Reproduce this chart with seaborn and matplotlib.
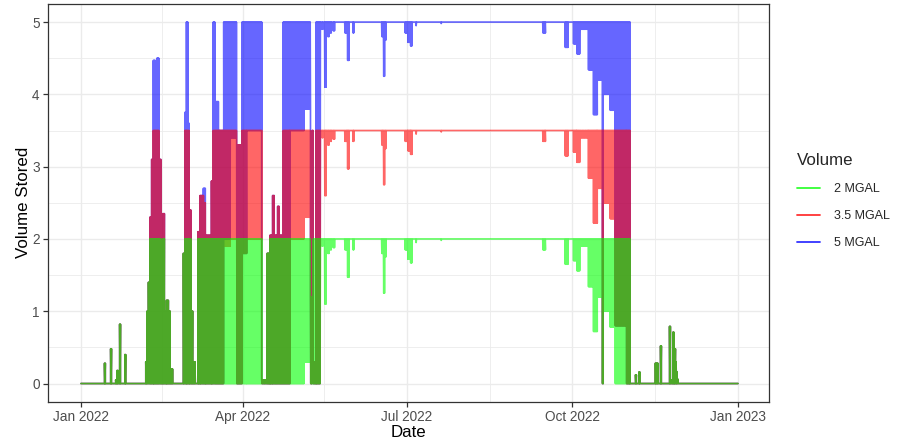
import numpy as np
import pandas as pd
import seaborn as sns
import matplotlib.pyplot as plt
from matplotlib.lines import Line2D
import matplotlib.dates as mdates

# Each row: start day, end day, then (low, high) for 2 MGAL, 3.5 MGAL, 5 MGAL.
# Day 0 = 1 Jan 2022. Within a row the hourly level swings between low and high.
jan_spikes = [
    (13.1, 13.5, 0, .28, 0, .28, 0, .28),
    (16.5, 16.9, 0, .48, 0, .48, 0, .48),
    (19.3, 19.7, 0, .05, 0, .05, 0, .05),
    (20.1, 20.5, 0, .18, 0, .18, 0, .18),
    (20.5, 21.5, 0, .04, 0, .04, 0, .04),
    (21.5, 21.9, 0, .82, 0, .82, 0, .82),
    (24.4, 24.8, 0, .40, 0, .40, 0, .40),
]

spring = [
    (36.0, 36.7, 0, .3, 0, .3, 0, .3),
    (36.7, 37.5, 0, 1.0, 0, 1.0, 0, 1.0),
    (37.5, 38.3, 0, 1.4, 0, 1.4, 0, 1.4),
    (38.3, 39.3, 0, 2, 0, 2.3, 0, 2.3),
    (39.3, 40.2, 0, 2, 0, 3.1, 0, 3.1),
    (40.2, 41.2, 0, 2, 0, 3.5, 0, 4.47),
    (41.2, 42.2, 0, 2, 0, 3.5, 0, 3.9),
    (42.2, 43.2, 0, 2, 0, 3.5, 0, 4.5),
    (43.2, 44.3, 0, 2, 0, 3.1, 0, 3.1),
    (44.3, 45.5, 0, .3, 0, .3, 0, .3),
    (45.5, 46.3, 0, 2, 0, 2.35, 0, 2.35),
    (46.3, 47.5, 0, 1.0, 0, 1.0, 0, 1.0),
    (47.5, 48.5, 0, 1.15, 0, 1.15, 0, 1.15),
    (48.5, 49.5, 0, 1.0, 0, 1.0, 0, 1.0),
    (49.5, 51.0, 0, .2, 0, .2, 0, .2),
    (51.0, 56.9, 0, 0, 0, 0, 0, 0),
    (56.9, 57.7, 0, 1.8, 0, 1.8, 0, 1.8),
    (57.7, 58.6, 0, 2, 0, 3.5, 0, 3.75),
    (58.6, 59.3, 0, 2, 0, 3.5, 0, 5),
    (59.3, 60.2, 0, 2, 0, 3.5, 0, 3.6),
    (60.2, 61.0, 0, 2, 0, 2.4, 0, 2.4),
    (61.0, 62.0, 0, 1.0, 0, 1.0, 0, 1.0),
    (62.0, 63.5, 0, .3, 0, .3, 0, .3),
    (63.5, 65.0, 0, 0, 0, 0, 0, 0),
    (65.0, 66.2, 0, 2, 0, 2.1, 0, 2.1),
    (66.2, 68.0, 0, 2, 0, 2.6, 0, 2.6),
    (68.0, 69.2, 0, 2, 0, 2.5, 0, 2.7),
    (69.2, 72.5, 0, 2, 0, 2.05, 0, 2.05),
    (72.5, 73.5, 0, 2, 0, 2.8, 0, 2.8),
    (73.5, 74.3, 0, 2, 0, 3.5, 0, 5),
    (74.3, 76.3, 0, 2, 0, 3.5, 0, 3.9),
    (76.3, 79.3, 0, 2, 0, 3.5, 0, 3.5),
    (79.3, 83.0, 0, 2, 1.9, 3.5, 2, 5),
    (83.0, 86.5, 0, 2, 2, 3.5, 3.4, 5),
    (86.5, 89.5, 0, 2, 0, 3.3, 0, 3.3),
    (89.5, 92.0, 0, 2, 1.8, 3.5, 1.8, 5),
    (92.0, 100.4, 0, 2, 2, 3.5, 3.5, 5),
    (100.4, 103.5, 0, .05, 0, .05, 0, .05),
    (103.5, 105.0, 0, 1.8, 0, 1.8, 0, 1.8),
    (105.0, 106.5, 0, 2, 0, 2.05, 0, 2.05),
    (106.5, 107.3, 0, 2, 0, 2.6, 0, 2.6),
    (107.3, 109.3, 0, 2, 0, 2.05, 0, 2.05),
    (109.3, 110.0, 0, 2, 0, 2.45, 0, 2.45),
    (110.0, 112.4, 0, 2, 0, 2.05, 0, 2.05),
    (112.4, 116.0, 0, 2, 0, 3.5, 0, 5),
    (116.0, 124.0, 0, 2, 2, 3.5, 3.5, 5),
    (124.0, 127.5, .3, 2, 2.3, 3.5, 3.8, 5),
    (127.5, 128.5, 0, 1.2, 0, 1.2, 0, 1.2),
    (128.5, 129.0, 0, 1.2, 1.2, 3.5, 1.2, 3.5),
    (129.0, 130.6, 0, 2, 0, .3, 0, .3),
    (130.6, 133.0, 0, 2, 0, 3.5, 0, 5),
    (133.0, 133.8, 2, 2, 3.5, 3.5, 5, 5),
]

summer_dips = [
    (133.8, 134.5, 1.9, 2, 3.4, 3.5, 4.9, 5),
    (135.3, 136.2, 1.1, 2, 2.6, 3.5, 4.1, 5),
    (137.0, 138.0, 1.8, 2, 3.3, 3.5, 4.8, 5),
    (138.5, 139.0, 1.85, 2, 3.35, 3.5, 4.85, 5),
    (140.0, 141.0, 1.88, 2, 3.38, 3.5, 4.88, 5),
    (146.5, 147.8, 1.85, 2, 3.35, 3.5, 4.85, 5),
    (148.0, 149.0, 1.47, 2, 2.97, 3.5, 4.47, 5),
    (151.0, 151.5, 1.85, 2, 3.35, 3.5, 4.85, 5),
    (167.0, 168.0, 1.8, 2, 3.3, 3.5, 4.8, 5),
    (168.0, 168.8, 1.25, 2, 2.75, 3.5, 4.25, 5),
    (168.8, 169.5, 1.75, 2, 3.25, 3.5, 4.75, 5),
    (180.0, 181.5, 1.85, 2, 3.35, 3.5, 4.85, 5),
    (181.5, 183.0, 1.72, 2, 3.22, 3.5, 4.72, 5),
    (183.0, 184.0, 1.67, 2, 3.17, 3.5, 4.67, 5),
    (186.0, 186.4, 1.95, 2, 3.45, 3.5, 4.95, 5),
    (200.0, 200.3, 1.98, 2, 3.48, 3.5, 4.98, 5),
    (256.5, 258.0, 1.85, 2, 3.35, 3.5, 4.85, 5),
    (268.9, 270.7, 1.65, 2, 3.15, 3.5, 4.65, 5),
    (273.5, 275.4, 1.7, 2, 3.2, 3.5, 4.7, 5),
    (275.4, 277.2, 1.56, 2, 3.06, 3.5, 4.56, 5),
    (277.2, 281.8, 1.9, 2, 3.4, 3.5, 4.9, 5),
    (281.8, 284.6, 1.34, 2, 2.84, 3.5, 4.34, 5),
    (284.6, 286.8, .72, 2, 2.22, 3.5, 3.72, 5),
    (286.8, 289.6, 1.2, 2, 2.7, 3.5, 4.2, 5),
    (289.6, 290.1, 0, 2, 0, 3.5, 0, 5),
    (290.1, 293.9, 1.0, 2, 2.5, 3.5, 4.0, 5),
    (293.9, 296.7, .78, 2, 2.28, 3.5, 3.78, 5),
]

fall = [
    (296.7, 303.0, 0, 2, .8, 3.5, .8, 5),
    (303.0, 305.0, 0, 2, 0, 3.5, 0, 5),
]

winter_spikes = [
    (308.1, 308.5, 0, .12, 0, .12, 0, .12),
    (310.0, 310.4, 0, .16, 0, .16, 0, .16),
    (319.1, 320.6, 0, .28, 0, .28, 0, .28),
    (322.0, 322.4, 0, .52, 0, .52, 0, .52),
    (327.0, 327.4, 0, .79, 0, .79, 0, .79),
    (327.4, 328.9, 0, .05, 0, .05, 0, .05),
    (328.9, 329.3, 0, .71, 0, .71, 0, .71),
    (329.3, 329.8, 0, .30, 0, .30, 0, .30),
    (329.8, 330.2, 0, .48, 0, .48, 0, .48),
    (330.2, 330.8, 0, .30, 0, .30, 0, .30),
    (330.8, 331.2, 0, .16, 0, .16, 0, .16),
    (331.2, 331.8, 0, .06, 0, .06, 0, .06),
]

series = ["2 MGAL", "3.5 MGAL", "5 MGAL"]
colors = {"2 MGAL": "#00FF00", "3.5 MGAL": "#FF0000", "5 MGAL": "#0000FF"}
EMPTY = (0, 0, 0, 0, 0, 0)
FULL = (2, 2, 3.5, 3.5, 5, 5)


def fill_gaps(rows, start, end, base):
    out, t = [], start
    for r in rows:
        if r[0] > t:
            out.append((t, r[0]) + base)
        out.append(r)
        t = r[1]
    if end > t:
        out.append((t, end) + base)
    return out


rows = (fill_gaps(jan_spikes, 0, 36.0, EMPTY) + spring
        + fill_gaps(summer_dips, 133.8, 296.7, FULL) + fall
        + fill_gaps(winter_spikes, 305.0, 365.0, EMPTY))

frames = []
for k, name in enumerate(series):
    t, v = [], []
    for r in rows:
        s, e, lo, hi = r[0], r[1], r[2 + 2 * k], r[3 + 2 * k]
        n = 2 if lo == hi else max(3, int((e - s) * 6) + 1)
        t.extend(np.linspace(s, e, n))
        v.extend(np.where(np.arange(n) % 2 == 0, hi, lo))
    frames.append(pd.DataFrame({
        "Date": pd.Timestamp("2022-01-01") + pd.to_timedelta(np.array(t), unit="D"),
        "Volume Stored": v,
        "Volume": name,
    }))
df = pd.concat(frames, ignore_index=True)

sns.set_theme(style="white")
plt.rcParams["font.family"] = ["Liberation Sans", "DejaVu Sans"]

fig, ax = plt.subplots(figsize=(8.98, 4.44), dpi=100)
fig.subplots_adjust(left=0.0535, right=0.8563, top=0.991, bottom=0.0955)

# blue first, then red, then green on top (as in the original overlap colours)
sns.lineplot(data=df, x="Date", y="Volume Stored", hue="Volume",
             hue_order=["5 MGAL", "3.5 MGAL", "2 MGAL"], palette=colors,
             estimator=None, sort=False, alpha=0.6, linewidth=1.2,
             legend=False, ax=ax)

t0 = pd.Timestamp("2022-01-01")
ax.set_xlim(t0 - pd.Timedelta(days=18.3), t0 + pd.Timedelta(days=382.2))
ax.set_ylim(-0.25, 5.25)

major = pd.to_datetime(["2022-01-01", "2022-04-01", "2022-07-01", "2022-10-01", "2023-01-01"])
minor = pd.to_datetime(["2022-02-15", "2022-05-16", "2022-08-16", "2022-11-16"])
ax.set_xticks(major)
ax.set_xticks(minor, minor=True)
ax.xaxis.set_major_formatter(mdates.DateFormatter("%b %Y"))
ax.set_yticks(range(6))
ax.set_yticks(np.arange(0.5, 5, 1), minor=True)

ax.grid(which="major", color="#EBEBEB", linewidth=1.0, zorder=0)
ax.grid(which="minor", color="#EBEBEB", linewidth=0.6, zorder=0)
ax.set_axisbelow(True)
for sp in ax.spines.values():
    sp.set_color("#333333")
    sp.set_linewidth(0.9)
ax.tick_params(which="major", length=3.5, width=0.9, color="#333333",
               labelsize=9.8, labelcolor="#4D4D4D", pad=2.5,
               bottom=True, left=True)
ax.tick_params(which="minor", length=0)

ax.set_xlabel("Date", fontsize=12.2, color="black")
ax.set_ylabel("Volume Stored", fontsize=12.2, color="black")
ax.xaxis.set_label_coords(0.5, -0.058)
ax.yaxis.set_label_coords(-0.024, 0.5)

handles = [Line2D([0], [0], color=colors[s], alpha=0.8, lw=1.3) for s in series]
leg = fig.legend(handles, series, title="Volume", loc="upper left",
                 bbox_to_anchor=(0.8875, 0.656), frameon=False,
                 fontsize=9.0, title_fontsize=12.2, handlelength=1.85,
                 handletextpad=1.1, labelspacing=1.22, borderpad=0,
                 borderaxespad=0, alignment="left")

fig.savefig("out.png", dpi=100)
